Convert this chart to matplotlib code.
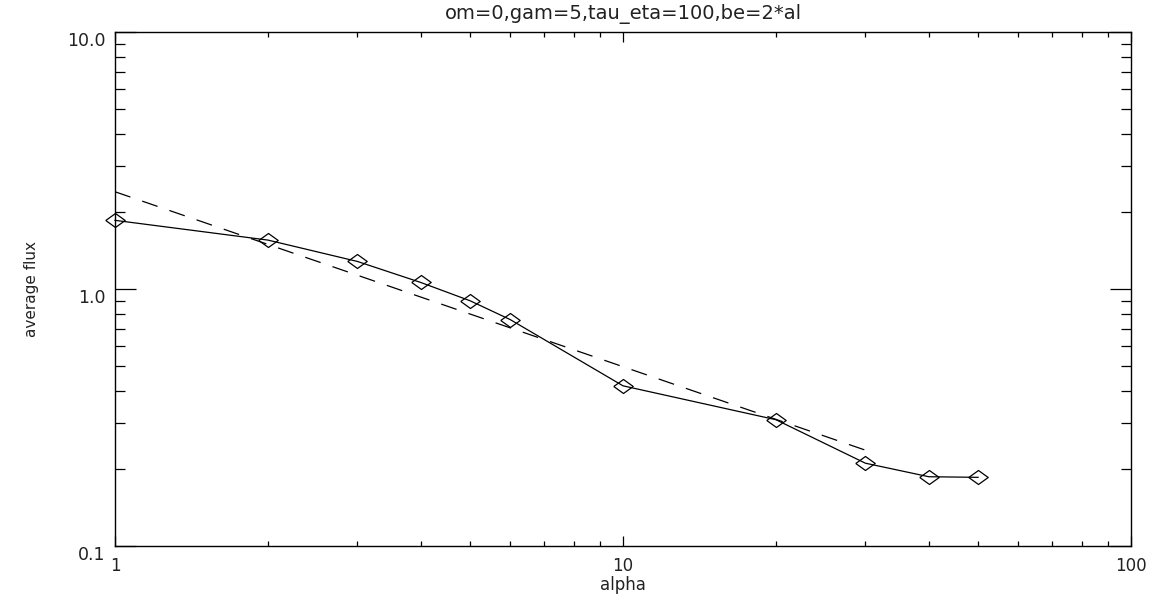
import numpy as np
import matplotlib
matplotlib.use("Agg")
import matplotlib.pyplot as plt
from matplotlib.ticker import NullFormatter, LogLocator

# data
alpha = [1, 2, 3, 4, 5, 6, 10, 20, 30, 40, 50]
flux = [1.85, 1.55, 1.28, 1.06, 0.90, 0.76, 0.42, 0.31, 0.21, 0.186, 0.185]

# dashed power-law fit, end points
fit_alpha = [1, 30]
fit_flux = [2.39, 0.236]

xticks = [1, 10, 100]
xticklabels = ["1", "10", "100"]
yticks = [0.1, 1.0, 10.0]
yticklabels = ["0.1", "1.0", "10.0"]

title = "om=0,gam=5,tau_eta=100,be=2*al"

plt.rcParams['font.family'] = ['DejaVu Sans']

fig = plt.figure(figsize=(11.56, 5.96), dpi=100)
ax = fig.add_axes([115/1156, 1-546/596, (1131-115)/1156, (546-32)/596])

# wide flat diamond like the IDL psym=4
diamond = [(-1, 0), (0, 0.72), (1, 0), (0, -0.72), (-1, 0)]

ax.plot(alpha, flux, color='black', lw=0.9, marker=diamond, ms=14,
        mfc='none', mec='black', mew=0.9, clip_on=False)
ax.plot(fit_alpha, fit_flux, color='black', lw=0.9, dashes=(13, 10))

ax.set_xscale('log')
ax.set_yscale('log')
ax.set_xlim(1, 100)
ax.set_ylim(0.1, 10)

ax.set_xticks(xticks)
ax.set_xticklabels(xticklabels)
ax.set_yticks(yticks)
ax.set_yticklabels(yticklabels)
ax.xaxis.set_minor_locator(LogLocator(base=10, subs=np.arange(2, 10)))
ax.yaxis.set_minor_locator(LogLocator(base=10, subs=np.arange(2, 10)))
ax.xaxis.set_minor_formatter(NullFormatter())
ax.yaxis.set_minor_formatter(NullFormatter())

ax.tick_params(axis='x', which='major', direction='in', length=7.5, width=0.9,
               top=True, bottom=True, labelsize=12, pad=8,
               labelcolor='#222222')
ax.tick_params(axis='x', which='minor', direction='in', length=3.6, width=0.9,
               top=True, bottom=True)
ax.tick_params(axis='y', which='major', direction='in', length=15, width=0.9,
               left=True, right=True, labelsize=12.5, pad=7,
               labelcolor='#222222')
ax.tick_params(axis='y', which='minor', direction='in', length=7.5, width=0.9,
               left=True, right=True)
for lab in ax.get_yticklabels():
    lab.set_verticalalignment('top')

for sp in ax.spines.values():
    sp.set_linewidth(1.0)

ax.set_title(title, fontsize=14, pad=9, color='#222222')
ax.set_xlabel("alpha", fontsize=12, labelpad=1, color='#222222')
ax.set_ylabel("average flux", fontsize=11, labelpad=20, color='#222222')

plt.savefig("out.png", dpi=100)
